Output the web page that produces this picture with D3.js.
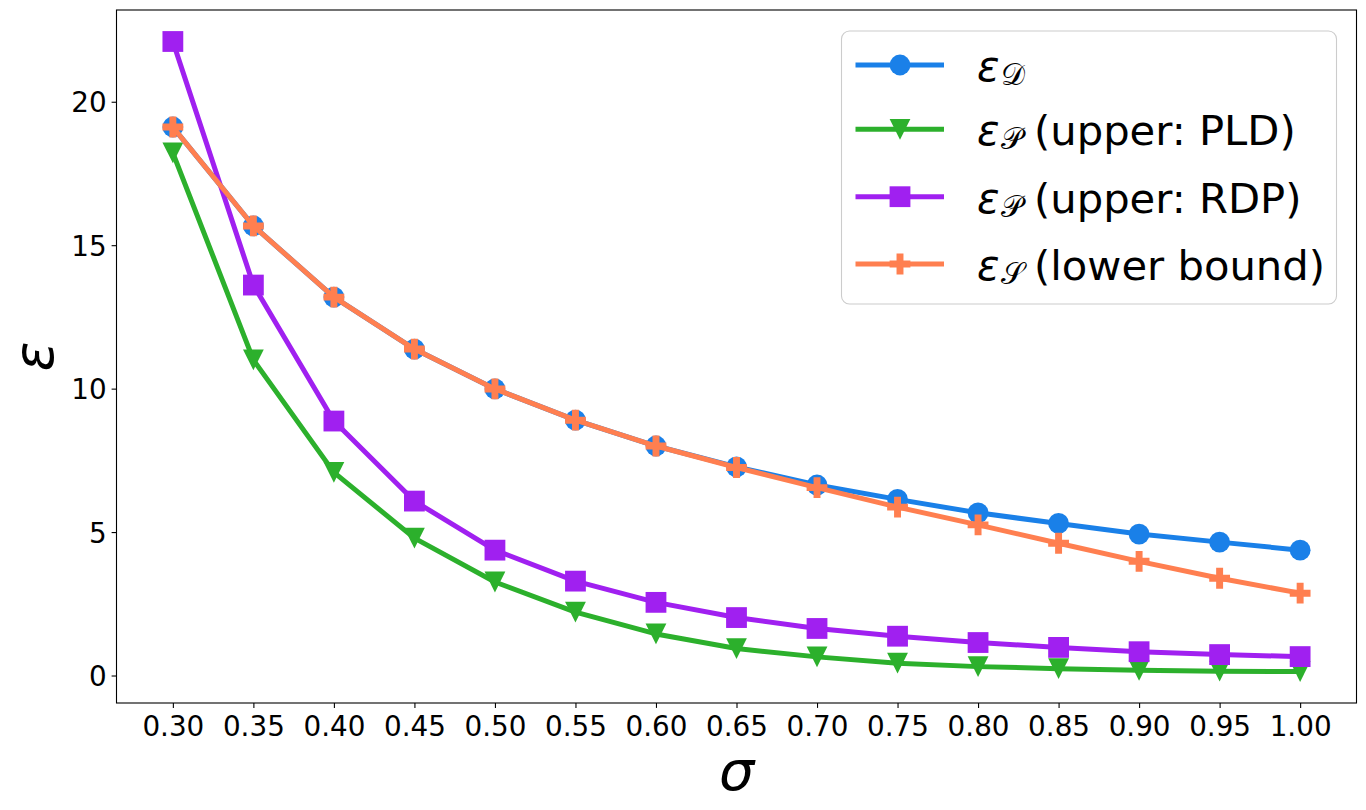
<!DOCTYPE html>
<html>
<head>
<meta charset="utf-8">
<script src="https://cdn.jsdelivr.net/npm/d3@7"></script>
<style>
  html, body { margin: 0; padding: 0; background: #fff; }
  svg { display: block; font-family: "DejaVu Sans", sans-serif; }
</style>
</head>
<body>
<svg id="chart" width="1366" height="810"></svg>
<script>
// sigma values on the x axis
const sigma = [0.30, 0.35, 0.40, 0.45, 0.50, 0.55, 0.60, 0.65, 0.70, 0.75, 0.80, 0.85, 0.90, 0.95, 1.00]

// epsilon values
const epsD = [19.12, 15.67, 13.19, 11.38, 9.99, 8.90, 8.00, 7.27, 6.64, 6.14, 5.67, 5.30, 4.93, 4.65, 4.37]
const epsPLD = [18.22, 11.00, 7.08, 4.79, 3.26, 2.21, 1.45, 0.94, 0.65, 0.43, 0.31, 0.24, 0.18, 0.15, 0.14]
const epsRDP = [22.10, 13.61, 8.87, 6.08, 4.37, 3.29, 2.55, 2.02, 1.64, 1.37, 1.15, 0.98, 0.83, 0.73, 0.66]
const epsS = [19.12, 15.67, 13.19, 11.38, 9.99, 8.90, 8.00, 7.25, 6.55, 5.87, 5.25, 4.61, 3.98, 3.39, 2.87]

const yTicks = [0, 5, 10, 15, 20]

const series = [
  { key: 'D', values: epsD, color: '#1a80e8', marker: 'circle', sub: '\u{1D49F}', rest: '' },
  { key: 'PLD', values: epsPLD, color: '#2cb02c', marker: 'triangleDown', sub: '\u{1D4AB}', rest: '(upper: PLD)' },
  { key: 'RDP', values: epsRDP, color: '#a020f0', marker: 'square', sub: '\u{1D4AB}', rest: '(upper: RDP)' },
  { key: 'S', values: epsS, color: '#ff7f50', marker: 'plus', sub: '\u{1D4AE}', rest: '(lower bound)' }
]

const margin = { top: 10, right: 9.5, bottom: 107, left: 116.5 }
const width = 1366
const height = 810
const innerW = width - margin.left - margin.right
const innerH = height - margin.top - margin.bottom

const svg = d3.select('#chart')
const g = svg.append('g').attr('transform', `translate(${margin.left},${margin.top})`)

// matplotlib-like 5% padding around the data
const xExt = d3.extent(sigma)
const xPad = (xExt[1] - xExt[0]) * 0.05
const x = d3.scaleLinear().domain([xExt[0] - xPad, xExt[1] + xPad]).range([0, innerW])

const allY = series.flatMap(s => s.values)
const yExt = d3.extent(allY)
const yPad = (yExt[1] - yExt[0]) * 0.05
const y = d3.scaleLinear().domain([yExt[0] - yPad, yExt[1] + yPad]).range([innerH, 0])

const ms = 20.8 // marker size in px
const lw = 5

function markerPath (type, s) {
  const h = s / 2
  if (type === 'circle') {
    return d3.symbol().type(d3.symbolCircle).size(Math.PI * h * h)()
  }
  if (type === 'square') {
    return `M${-h},${-h}H${h}V${h}H${-h}Z`
  }
  if (type === 'triangleDown') {
    return `M0,${h}L${-h},${-h}L${h},${-h}Z`
  }
  // filled plus, arm thickness = s / 3
  const a = s / 6
  return `M${-a},${-h}H${a}V${-a}H${h}V${a}H${a}V${h}H${-a}V${a}H${-h}V${-a}H${-a}Z`
}

// axes
const xAxis = d3.axisBottom(x)
  .tickValues(sigma)
  .tickFormat(d3.format('.2f'))
  .tickSize(4.9)
  .tickSizeOuter(0)
  .tickPadding(8)
const yAxis = d3.axisLeft(y)
  .tickValues(yTicks)
  .tickSize(4.9)
  .tickSizeOuter(0)
  .tickPadding(5)

const gx = g.append('g').attr('transform', `translate(0,${innerH})`).call(xAxis)
const gy = g.append('g').call(yAxis)
;[gx, gy].forEach(ax => {
  ax.select('.domain').remove()
  ax.selectAll('.tick line').attr('stroke', '#000').attr('stroke-width', 1.1)
  ax.selectAll('.tick text')
    .attr('fill', '#000')
    .style('font-family', '"DejaVu Sans", sans-serif')
    .style('font-size', '27.8px')
})
gy.selectAll('.tick text').attr('dy', '0.36em')

// lines and markers
const line = d3.line().x((d, i) => x(sigma[i])).y(d => y(d))

series.forEach(s => {
  const sg = g.append('g').attr('class', 'series-' + s.key)
  sg.append('path')
    .attr('d', line(s.values))
    .attr('fill', 'none')
    .attr('stroke', s.color)
    .attr('stroke-width', lw)
    .attr('stroke-linejoin', 'round')
    .attr('stroke-linecap', 'square')
  sg.selectAll('path.mark')
    .data(s.values)
    .enter().append('path')
    .attr('class', 'mark')
    .attr('transform', (d, i) => `translate(${x(sigma[i])},${y(d)})`)
    .attr('d', markerPath(s.marker, ms))
    .attr('fill', s.color)
})

// frame
g.append('rect')
  .attr('x', 0).attr('y', 0)
  .attr('width', innerW).attr('height', innerH)
  .attr('fill', 'none')
  .attr('stroke', '#000')
  .attr('stroke-width', 1.1)

// axis labels
svg.append('text')
  .attr('x', margin.left + innerW / 2)
  .attr('y', 790)
  .attr('text-anchor', 'middle')
  .style('font-size', '55.6px')
  .style('font-style', 'italic')
  .text('σ')

svg.append('text')
  .attr('transform', `translate(53,${margin.top + innerH / 2}) rotate(-90)`)
  .attr('text-anchor', 'middle')
  .style('font-size', '55.6px')
  .style('font-style', 'italic')
  .text('ε')

// legend
const legend = svg.append('g').attr('transform', 'translate(841.5,31)')
legend.append('rect')
  .attr('width', 495).attr('height', 273)
  .attr('rx', 8).attr('ry', 8)
  .attr('fill', '#fff').attr('fill-opacity', 0.8)
  .attr('stroke', '#cccccc').attr('stroke-width', 1.1)

const rowY = [34, 98.3, 165.7, 233]
series.forEach((s, i) => {
  const row = legend.append('g').attr('transform', `translate(0,${rowY[i]})`)
  row.append('line')
    .attr('x1', 14).attr('x2', 102.5)
    .attr('stroke', s.color).attr('stroke-width', lw)
  row.append('path')
    .attr('transform', 'translate(58.5,0)')
    .attr('d', markerPath(s.marker, ms))
    .attr('fill', s.color)
  const t = row.append('text')
    .attr('x', 135.5).attr('y', 16)
    .style('font-size', '41.7px')
  t.append('tspan').style('font-style', 'italic').text('ε')
  t.append('tspan').attr('dx', 1).attr('dy', 4).style('font-size', '30px').text(s.sub)
  if (s.rest) t.append('tspan').attr('x', 192.5).attr('dy', -4).text(s.rest)
})
</script>
</body>
</html>
